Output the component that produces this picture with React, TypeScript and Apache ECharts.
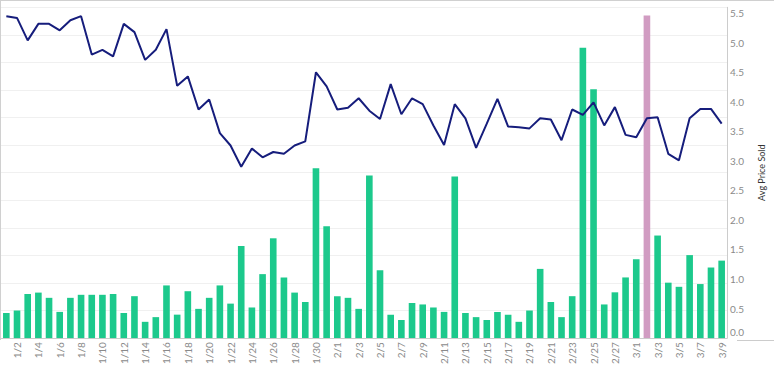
import React, { useEffect, useRef } from "react";
import * as echarts from "echarts";

const categories = [
  "1/1","1/2","1/3","1/4","1/5","1/6","1/7","1/8","1/9","1/10","1/11","1/12","1/13","1/14","1/15","1/16",
  "1/17","1/18","1/19","1/20","1/21","1/22","1/23","1/24","1/25","1/26","1/27","1/28","1/29","1/30","1/31",
  "2/1","2/2","2/3","2/4","2/5","2/6","2/7","2/8","2/9","2/10","2/11","2/12","2/13","2/14","2/15","2/16",
  "2/17","2/18","2/19","2/20","2/21","2/22","2/23","2/24","2/25","2/26","2/27","2/28",
  "3/1","3/2","3/3","3/4","3/5","3/6","3/7","3/8","3/9",
];

const unitsSold = [
  0.91, 1.0, 1.6, 1.65, 1.46, 0.95, 1.46, 1.57, 1.57, 1.57, 1.6, 0.91, 1.52, 0.59, 0.76, 1.91,
  0.85, 1.7, 1.06, 1.46, 1.91, 1.25, 3.34, 1.11, 2.32, 3.62, 2.2, 1.65, 1.31, 6.16, 4.06,
  1.52, 1.46, 1.06, 5.9, 2.46, 0.85, 0.66, 1.27, 1.22, 1.11, 0.95, 5.86, 0.91, 0.76, 0.66, 0.95,
  0.85, 0.59, 1.0, 2.51, 1.31, 0.76, 1.52, 10.53, 9.03, 1.22, 1.66, 2.2,
  2.86, 11.7, 3.72, 2.01, 1.86, 3.01, 1.96, 2.56, 2.81,
];

const avgPriceSold = [
  5.45, 5.42, 5.04, 5.32, 5.32, 5.21, 5.38, 5.45, 4.8, 4.88, 4.77, 5.32, 5.18, 4.71, 4.88, 5.23,
  4.27, 4.43, 3.87, 4.04, 3.47, 3.26, 2.9, 3.21, 3.06, 3.15, 3.12, 3.26, 3.33, 4.5, 4.26,
  3.87, 3.9, 4.06, 3.85, 3.71, 4.3, 3.79, 4.06, 3.96, 3.6, 3.27, 3.96, 3.72, 3.22, 3.63, 4.05,
  3.58, 3.57, 3.55, 3.72, 3.7, 3.35, 3.87, 3.78, 3.99, 3.6, 3.91, 3.44,
  3.4, 3.72, 3.74, 3.12, 3.01, 3.72, 3.88, 3.88, 3.63,
];

const highlightDate = "3/2";

const GREEN = "#1cc98c";
const PINK = "#d19cc2";
const NAVY = "#161d7c";
const FONT = "Lato, 'Open Sans', sans-serif";

export default function App() {
  const ref = useRef<HTMLDivElement>(null);
  useEffect(() => {
    if (!ref.current) return;
    const chart = echarts.init(ref.current, undefined, { renderer: "svg" });
    chart.setOption({
      animation: false,
      backgroundColor: "#ffffff",
      textStyle: { fontFamily: FONT },
      grid: { left: 1, right: 37, top: 7.3, bottom: 27, containLabel: false },
      xAxis: {
        type: "category",
        data: categories,
        boundaryGap: true,
        axisLine: { show: true, lineStyle: { color: "#cccccc", width: 1 } },
        axisTick: { show: false },
        axisLabel: {
          rotate: 90,
          color: "#8a8a8a",
          fontSize: 10,
          margin: 4,
          fontFamily: FONT,
          interval: (i: number) => i % 2 === 1,
        },
        splitLine: { show: false },
      },
      yAxis: [
        {
          type: "value",
          position: "left",
          min: 0,
          max: 12,
          interval: 1,
          axisLine: { show: false },
          axisTick: { show: false },
          axisLabel: { show: false },
          splitLine: { show: true, lineStyle: { color: "#f0f0f0", width: 1 } },
        },
        {
          type: "value",
          position: "right",
          min: 0,
          max: 5.6,
          interval: 0.5,
          name: "Avg Price Sold",
          nameLocation: "middle",
          nameRotate: 90,
          nameGap: 30,
          nameTextStyle: { color: "#333333", fontSize: 9, fontFamily: FONT },
          axisLine: { show: true, lineStyle: { color: "#cccccc", width: 1 } },
          axisTick: { show: false },
          axisLabel: {
            color: "#8a8a8a",
            fontSize: 10,
            margin: 3,
            fontFamily: FONT,
            showMaxLabel: false,
            formatter: (v: number) => (v === 0 ? "{zero|0.0}" : v.toFixed(1)),
            rich: {
              zero: { color: "#8a8a8a", fontSize: 10, fontFamily: FONT, padding: [0, 0, 12, 0] },
            },
          },
          splitLine: { show: false },
        },
      ],
      series: [
        {
          type: "bar",
          yAxisIndex: 0,
          barCategoryGap: "38%",
          data: unitsSold.map((v, i) => ({
            value: v,
            itemStyle: { color: categories[i] === highlightDate ? PINK : GREEN },
          })),
        },
        {
          type: "line",
          yAxisIndex: 1,
          data: avgPriceSold,
          symbol: "none",
          lineStyle: { color: NAVY, width: 2 },
          itemStyle: { color: NAVY },
          z: 5,
        },
      ],
      graphic: [
        { type: "line", shape: { x1: 0, y1: 0.5, x2: 774, y2: 0.5 }, style: { stroke: "#d0d0d0", lineWidth: 1 } },
        { type: "line", shape: { x1: 0.5, y1: 0, x2: 0.5, y2: 340 }, style: { stroke: "#d0d0d0", lineWidth: 1 } },
        { type: "line", shape: { x1: 737, y1: 340.5, x2: 774, y2: 340.5 }, style: { stroke: "#cccccc", lineWidth: 1 } },
      ],
    });
    return () => chart.dispose();
  }, []);
  return (
    <div
      ref={ref}
      style={{ position: "absolute", left: 0, top: 0, width: 774, height: 367 }}
    />
  );
}
